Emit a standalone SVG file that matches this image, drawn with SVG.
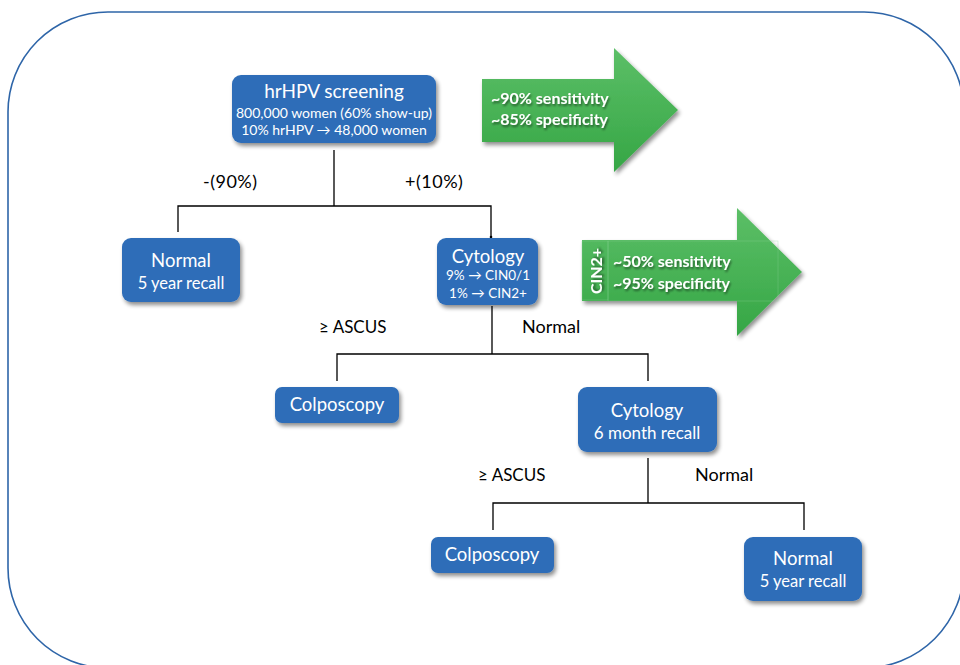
<svg xmlns="http://www.w3.org/2000/svg" width="960" height="665" viewBox="0 0 960 665">
<defs>
<filter id="sh" x="-20%" y="-20%" width="140%" height="150%">
<feGaussianBlur in="SourceAlpha" stdDeviation="2"/>
<feOffset dx="2" dy="3" result="b"/>
<feComponentTransfer><feFuncA type="linear" slope="0.45"/></feComponentTransfer>
<feMerge><feMergeNode/><feMergeNode in="SourceGraphic"/></feMerge>
</filter>
<filter id="tsh" x="-10%" y="-20%" width="120%" height="150%">
<feGaussianBlur in="SourceAlpha" stdDeviation="1"/>
<feOffset dx="1" dy="1.5"/>
<feComponentTransfer><feFuncA type="linear" slope="0.5"/></feComponentTransfer>
<feMerge><feMergeNode/><feMergeNode in="SourceGraphic"/></feMerge>
</filter>
<linearGradient id="gg" x1="0" y1="0" x2="0" y2="1">
<stop offset="0" stop-color="#5cbf67"/>
<stop offset="1" stop-color="#35a645"/>
</linearGradient>
</defs>
<style>
.box{fill:#2e6db8;filter:url(#sh)}
.t{font-family:Lato,"Open Sans",sans-serif;fill:#fff;text-anchor:middle}
.lbl{font-family:Lato,"Open Sans",sans-serif;fill:#000;font-size:18px}
.c{fill:none;stroke:#000;stroke-width:1.3}
.gt{font-family:Lato,"Open Sans",sans-serif;fill:#fff;font-weight:bold;font-size:16px;filter:url(#tsh)}
</style>
<rect x="8" y="12" width="956" height="656" rx="100" ry="100" fill="none" stroke="#2e65a8" stroke-width="1.6"/>
<g id="connectors">
<path class="c" d="M334 150V206M178 232V206H491V237"/>
<circle cx="491" cy="237" r="1.3" fill="#000"/>
<path class="c" d="M492 306V354M337 381V354H648V381"/>
<path class="c" d="M648 458V503M493 530V503H804V530"/>
<text class="lbl" x="203" y="188" style="letter-spacing:0.5px">-(90%)</text>
<text class="lbl" x="405" y="188" style="letter-spacing:0.5px">+(10%)</text>
<text class="lbl" x="319" y="333" style="font-size:17px">≥ ASCUS</text>
<text class="lbl" x="522" y="333">Normal</text>
<text class="lbl" x="478" y="481" style="font-size:17px">≥ ASCUS</text>
<text class="lbl" x="695" y="481">Normal</text>
</g>
<g id="arrow1">
<path d="M482 79H614V48L678 110L614 172V142H482Z" fill="url(#gg)" filter="url(#sh)"/>
<text class="gt" x="491" y="104">~90% sensitivity</text>
<text class="gt" x="491" y="125">~85% specificity</text>
</g>
<g id="arrow2">
<path d="M582 240H737V208L802 272L737 336V301H582Z" fill="url(#gg)" filter="url(#sh)"/>
<rect x="582" y="241" width="26" height="59" fill="none" stroke="#8fd49a" stroke-width="0.5" stroke-opacity="0.6"/>
<rect x="608" y="241" width="170" height="60" fill="none" stroke="#8fd49a" stroke-width="0.5" stroke-opacity="0.6"/>
<text class="gt" transform="translate(602 271) rotate(-90)" text-anchor="middle" style="font-size:16px">CIN2+</text>
<text class="gt" x="613" y="267">~50% sensitivity</text>
<text class="gt" x="613" y="289">~95% specificity</text>
</g>
<g id="hrhpv">
<rect class="box" x="232" y="75" width="204" height="68" rx="9"/>
<text class="t" x="334" y="98" style="font-size:19px">hrHPV screening</text>
<text class="t" x="334" y="118" style="font-size:14px">800,000 women (60% show-up)</text>
<text class="t" x="334" y="135" style="font-size:14px">10% hrHPV → 48,000 women</text>
</g>
<g id="normal1">
<rect class="box" x="122" y="238" width="118" height="64" rx="9"/>
<text class="t" x="181" y="267" style="font-size:18.5px">Normal</text>
<text class="t" x="181" y="289" style="font-size:16.5px">5 year recall</text>
</g>
<g id="cytology1">
<rect class="box" x="437" y="238" width="101" height="67" rx="9"/>
<text class="t" x="488" y="263" style="font-size:18.5px">Cytology</text>
<text class="t" x="488" y="280" style="font-size:13.5px">9% → CIN0/1</text>
<text class="t" x="488" y="298" style="font-size:13.5px">1% → CIN2+</text>
</g>
<g id="colposcopy1">
<rect class="box" x="275" y="387" width="124" height="36" rx="7"/>
<text class="t" x="337" y="411" style="font-size:18.5px">Colposcopy</text>
</g>
<g id="cytology2">
<rect class="box" x="578" y="387" width="139" height="65" rx="9"/>
<text class="t" x="647" y="417" style="font-size:18.5px">Cytology</text>
<text class="t" x="647" y="439" style="font-size:17px">6 month recall</text>
</g>
<g id="colposcopy2">
<rect class="box" x="431" y="537" width="123" height="36" rx="7"/>
<text class="t" x="492" y="561" style="font-size:18.5px">Colposcopy</text>
</g>
<g id="normal2">
<rect class="box" x="744" y="537" width="118" height="64" rx="9"/>
<text class="t" x="803" y="565" style="font-size:18.5px">Normal</text>
<text class="t" x="803" y="587" style="font-size:16.5px">5 year recall</text>
</g>
</svg>
